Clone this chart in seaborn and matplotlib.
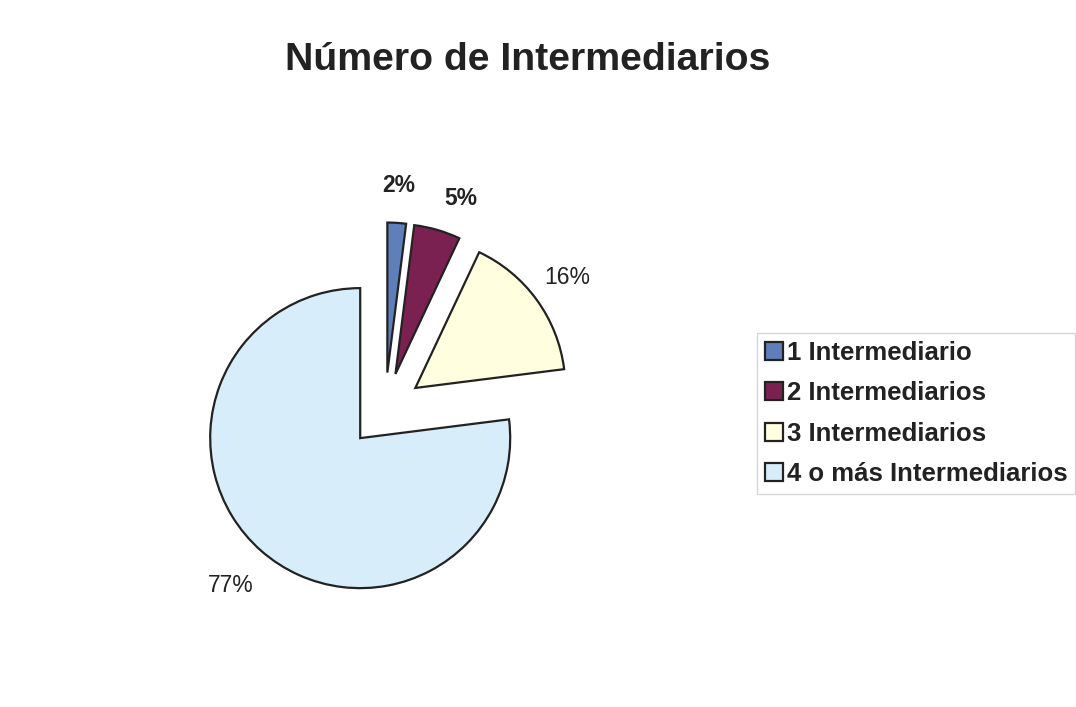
import matplotlib
matplotlib.use("Agg")
import matplotlib.pyplot as plt
import seaborn as sns

# Share of cases by number of intermediaries
categories = ["1 Intermediario", "2 Intermediarios", "3 Intermediarios", "4 o más Intermediarios"]
shares = [2, 5, 16, 77]
colors = ["#5f7fba", "#7b2152", "#ffffe0", "#d7eefa"]
title = "Número de Intermediarios"

sns.set_theme(style="white")
plt.rcParams["font.family"] = ["Liberation Sans", "DejaVu Sans"]

W, H = 1076, 707
fig = plt.figure(figsize=(W / 100, H / 100), dpi=100)
fig.patch.set_facecolor("white")

# square axes, 150 px per unit radius, centred on the pie
cx, cy, half = 385, 410, 300
ax = fig.add_axes([(cx - half) / W, (H - cy - half) / H, 2 * half / W, 2 * half / H])
ax.set_xlim(-2, 2)
ax.set_ylim(-2, 2)
ax.set_aspect("equal")
ax.axis("off")

wedges, texts, autotexts = ax.pie(
    shares,
    colors=colors,
    explode=[0.25] * len(shares),
    startangle=90,
    counterclock=False,
    autopct="%1.0f%%",
    pctdistance=1.25,
    radius=1.0,
    wedgeprops=dict(edgecolor="#222222", linewidth=1.6),
    textprops=dict(fontsize=16.5, color="#222222"),
    frame=False,
)
ax.set_xlim(-2, 2)
ax.set_ylim(-2, 2)

for t, w in zip(autotexts, ["bold", "bold", "medium", "normal"]):
    t.set_fontweight(w)
# small outward nudges so the labels clear each other
x, y = autotexts[3].get_position()
autotexts[3].set_position((x * 1.04, y * 1.04))
x, y = autotexts[1].get_position()
autotexts[1].set_position((x + 0.09, y - 0.03))

fig.text(528 / W, 1 - 60 / H, title, ha="center", va="center",
         fontsize=28.3, fontweight="bold", color="#222222")

leg = fig.legend(
    wedges, categories,
    loc="upper left",
    bbox_to_anchor=(757 / W, 1 - 333 / H),
    frameon=True, fancybox=False, shadow=False,
    prop=dict(size=18.5, weight="bold"),
    handlelength=0.7, handleheight=0.7, handletextpad=0.15,
    labelspacing=0.64, borderpad=0.3, borderaxespad=0.0,
)
leg.get_frame().set_edgecolor("#cccccc")
leg.get_frame().set_linewidth(1.0)
for txt in leg.get_texts():
    txt.set_color("#222222")

fig.savefig("out.png", dpi=100, facecolor="white")
